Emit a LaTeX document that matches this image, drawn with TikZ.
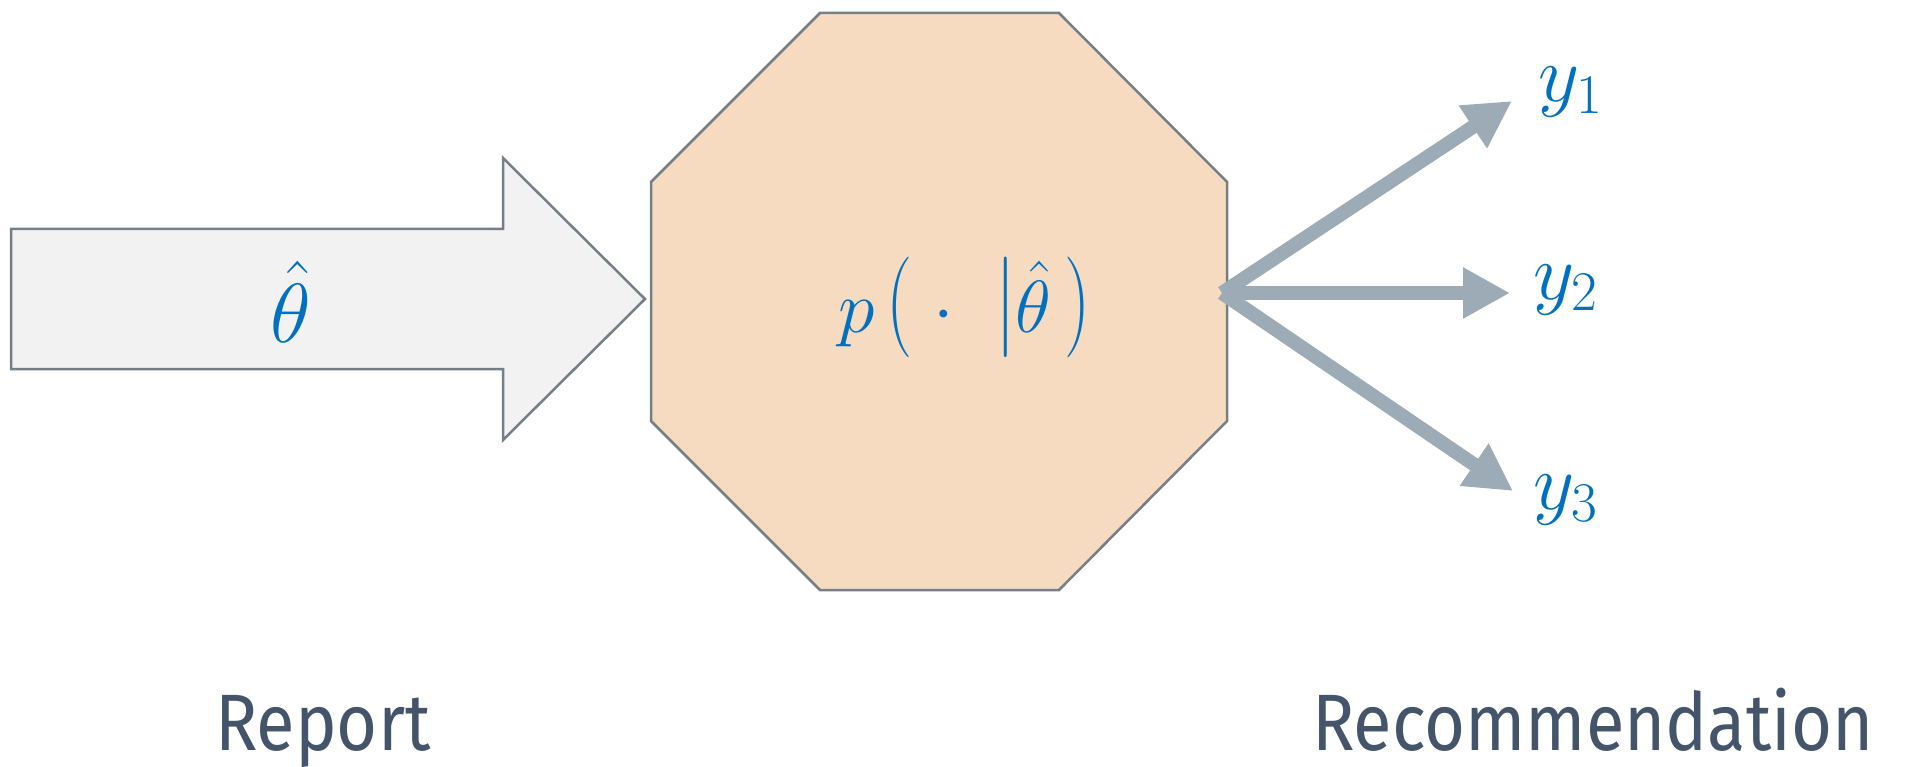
\RequirePackage{fix-cm}
\documentclass[tikz,border=0pt]{standalone}
\usepackage{fontspec}
\setsansfont{Fira Sans}[FakeStretch=0.88]
\usetikzlibrary{arrows.meta}
\definecolor{mathblue}{HTML}{0070C0}
\definecolor{labelgray}{HTML}{44546A}
\definecolor{edgegray}{HTML}{767F88}
\definecolor{arrowfill}{HTML}{F2F2F2}
\definecolor{octfill}{HTML}{F6DBC0}
\definecolor{conngray}{HTML}{9DABB6}
\newcommand{\tallop}[1]{\mathopen{\scalebox{1}[1.36]{$#1$}}}
\newcommand{\tallcl}[1]{\mathclose{\scalebox{1}[1.36]{$#1$}}}
\newcommand{\tallord}[1]{\mathord{\scalebox{1}[1.36]{$#1$}}}
\tikzset{
  shapeline/.style={draw=edgegray, line width=2.5pt, line join=miter},
  conn/.style={draw=conngray, line width=14pt, -{Triangle[length=47pt,width=48pt]}},
  mathlbl/.style={text=mathblue, inner sep=0pt, font=\fontsize{80}{90}\selectfont},
  caption/.style={text=labelgray, inner sep=0pt, font=\sffamily\fontsize{80}{90}\selectfont}
}
\begin{document}
\begin{tikzpicture}[x=1pt,y=-1pt]
\useasboundingbox (0,0) rectangle (1919,767);
% input arrow
\draw[shapeline, fill=arrowfill] (11,229) -- (503,229) -- (503,158) -- (645,299) -- (503,440) -- (503,369) -- (11,369) -- cycle;
\node[mathlbl, anchor=base, font=\fontsize{84}{90}\selectfont] (report) at (291,342) {$\hat{\theta}$};
% octagon
\draw[shapeline, fill=octfill] (820,13) -- (1059,13) -- (1227,182) -- (1227,421) -- (1059,590) -- (820,590) -- (651,421) -- (651,182) -- cycle;
\node[mathlbl, anchor=base west, font=\fontsize{74}{90}\selectfont] (policy) at (838,332) {$p\,\tallop{(}\;\cdot\;\;\tallord{|}\hat{\theta}\,\tallcl{)}$};
\coordinate (src) at (1222,293);
% outputs
\node[mathlbl, anchor=base west] (y1) at (1538,102) {$y_1$};
\node[mathlbl, anchor=base west] (y2) at (1533,299) {$y_2$};
\node[mathlbl, anchor=base west] (y3) at (1533,509) {$y_3$};
\coordinate (t1) at (1512,101);
\coordinate (t2) at (1510,293);
\coordinate (t3) at (1513,491);
\draw[conn] (src) -- (t1);
\draw[conn] (src) -- (t2);
\draw[conn] (src) -- (t3);
% captions
\node[caption, anchor=base west] (cap1) at (215,750) {Report};
\node[caption, anchor=base west] (cap2) at (1312,750) {Recommendation};
\end{tikzpicture}
\end{document}
